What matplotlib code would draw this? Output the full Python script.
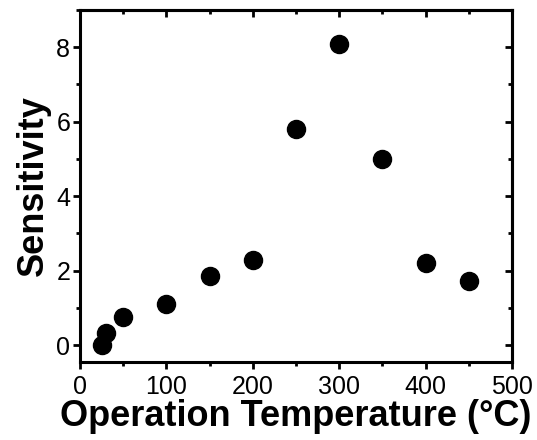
import matplotlib
matplotlib.use("Agg")
import matplotlib.pyplot as plt
from matplotlib.ticker import MultipleLocator

temperature = [25, 30, 50, 100, 150, 200, 250, 300, 350, 400, 450]
sensitivity = [0.0, 0.32, 0.75, 1.1, 1.85, 2.3, 5.8, 8.1, 5.0, 2.2, 1.72]
x_ticks = [0, 100, 200, 300, 400, 500]
y_ticks = [0, 2, 4, 6, 8]

plt.rcParams['font.family'] = ['Liberation Sans', 'DejaVu Sans']

fig = plt.figure(figsize=(5.37, 4.4), dpi=100)
ax = fig.add_axes([80/537, 1-362/440, (512-80)/537, (362-10)/440])

ax.plot(temperature, sensitivity, 'o', color='black', markersize=13, linestyle='none')

ax.set_xlim(0, 500)
ax.set_ylim(-0.45, 9)
ax.set_xticks(x_ticks)
ax.set_yticks(y_ticks)
ax.xaxis.set_minor_locator(MultipleLocator(50))
ax.yaxis.set_minor_locator(MultipleLocator(1))

for s in ax.spines.values():
    s.set_linewidth(2.2)

ax.tick_params(which='both', direction='out', width=2, labelsize=18, pad=2,
               top=False, right=False)
ax.tick_params(axis='x', pad=4)
ax.tick_params(which='major', length=5)
ax.tick_params(which='minor', length=3)

# mirrored inward ticks on top and right
axt = ax.secondary_xaxis('top')
axt.set_xticks(x_ticks)
axt.xaxis.set_minor_locator(MultipleLocator(50))
axt.tick_params(which='both', direction='in', width=2, labeltop=False)
axt.tick_params(which='major', length=5)
axt.tick_params(which='minor', length=3)
axr = ax.secondary_yaxis('right')
axr.set_yticks(y_ticks)
axr.yaxis.set_minor_locator(MultipleLocator(1))
axr.tick_params(which='both', direction='in', width=2, labelright=False)
axr.tick_params(which='major', length=5)
axr.tick_params(which='minor', length=3)
for s in list(axt.spines.values()) + list(axr.spines.values()):
    s.set_linewidth(2.2)

ax.set_xlabel('Operation Temperature (°C)', fontsize=26, fontweight='bold', labelpad=0)
ax.set_ylabel('Sensitivity', fontsize=26, fontweight='bold', labelpad=4)

fig.savefig('out.png', dpi=100)
